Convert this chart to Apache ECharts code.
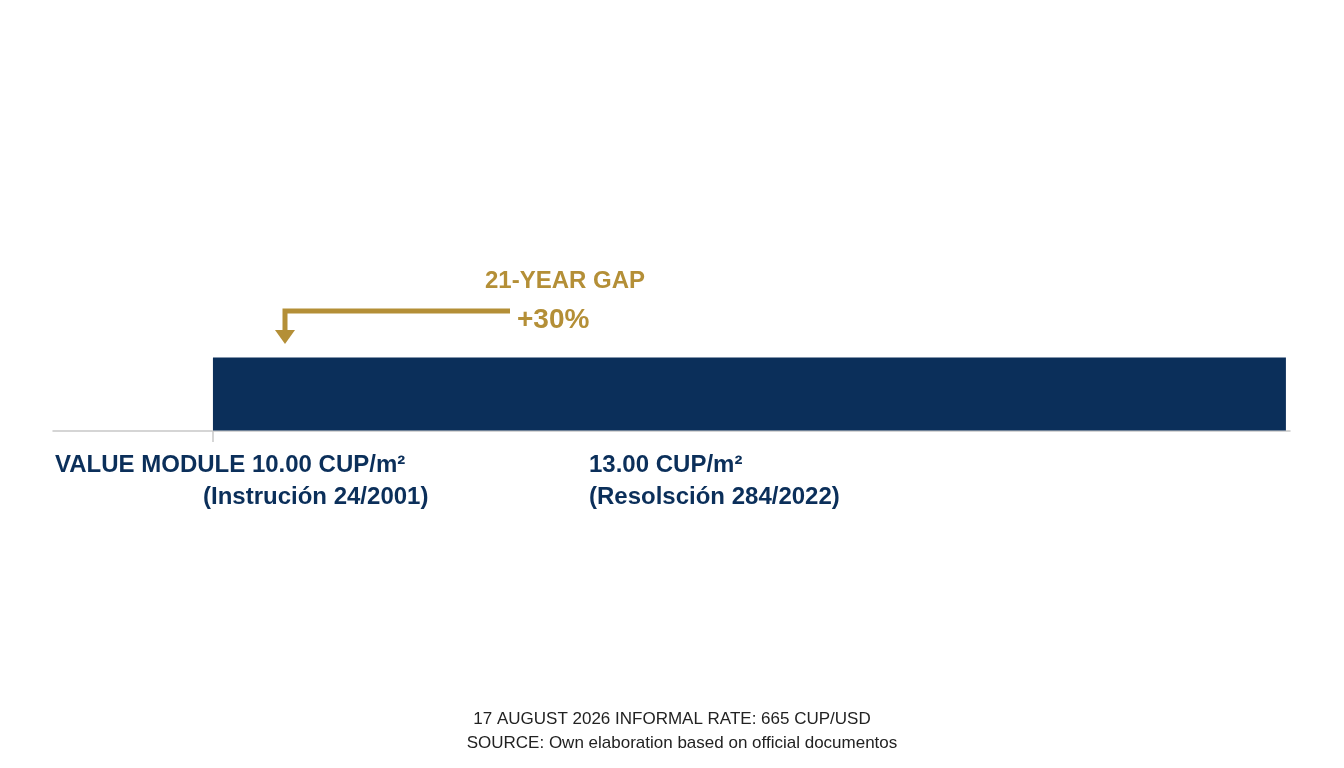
<!DOCTYPE html>
<html><head><meta charset="utf-8">
<script src="https://cdn.jsdelivr.net/npm/echarts@6/dist/echarts.min.js"></script>
<style>html,body{margin:0;background:#fff}#c{width:1344px;height:768px}</style></head>
<body><div id="c"></div>
<script>
const categories = ['Value module'];
const offsetValues = [12.93];
const barValues = [86.74];
const NAVY = '#0b2f5a', GOLD = '#b48f37';
const chart = echarts.init(document.getElementById('c'));
const txt = (x, y, s, size, color, align, weight) => ({type:'text', left:null, x, y, style:{text:s, fontFamily:'Liberation Sans, Arial', fontSize:size, fontWeight:weight||'bold', fill:color, textAlign:align||'left', textVerticalAlign:'middle'}});
chart.setOption({
  backgroundColor:'#fff',
  animation:false,
  grid:{left:53, top:357, width:1237, height:74},
  xAxis:{type:'value', min:0, max:100, show:true, axisLine:{show:true, lineStyle:{color:'#c8c8c8', width:1.5}}, axisTick:{show:false}, axisLabel:{show:false}, splitLine:{show:false}},
  yAxis:{type:'category', data:categories, show:false},
  series:[
    {type:'bar', stack:'a', data:offsetValues, barWidth:73, itemStyle:{color:'transparent'}},
    {type:'bar', stack:'a', data:barValues, barWidth:73, itemStyle:{color:NAVY}}
  ],
  graphic:[
    {type:'line', shape:{x1:213,y1:431,x2:213,y2:442}, style:{stroke:'#c8c8c8', lineWidth:1.5}},
    {type:'polyline', shape:{points:[[510,311],[285,311],[285,333]]}, style:{stroke:GOLD, lineWidth:5, fill:null}},
    {type:'polygon', shape:{points:[[275,330],[295,330],[285,344]]}, style:{fill:GOLD}},
    txt(565,281,'21-YEAR GAP',24,GOLD,'center'),
    txt(517,320,'+30%',28,GOLD,'left'),
    txt(55,465,'VALUE MODULE 10.00 CUP/m²',24,NAVY,'left'),
    txt(203,497,'(Instrución 24/2001)',24,NAVY,'left'),
    txt(589,465,'13.00 CUP/m²',24,NAVY,'left'),
    txt(589,497,'(Resolsción 284/2022)',24,NAVY,'left'),
    txt(672,719,'17 AUGUST 2026 INFORMAL RATE: 665 CUP/USD',17,'#222','center','normal'),
    txt(682,743,'SOURCE: Own elaboration based on official documentos',17,'#222','center','normal')
  ]
});
</script></body></html>
